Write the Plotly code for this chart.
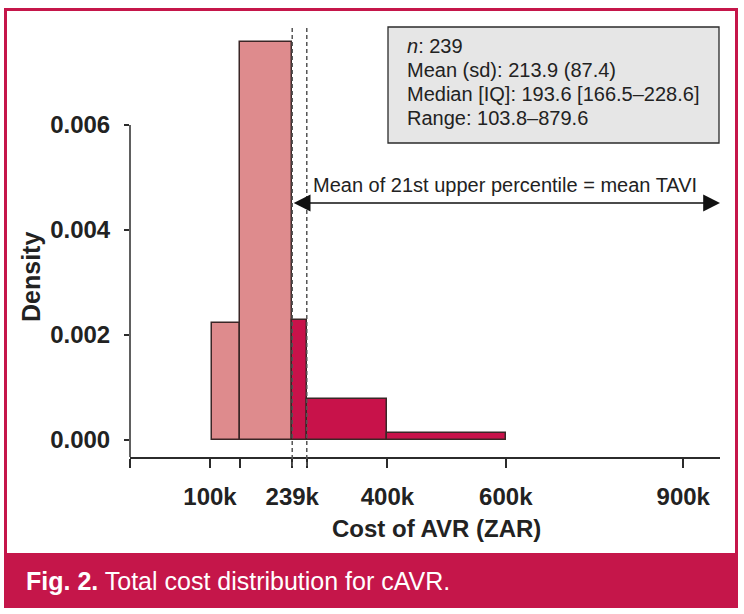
import plotly.graph_objects as go

# ---- data (cost in thousands of ZAR) ----
bin_edges = [103.8, 150, 239, 263.6, 400, 600]
densities = [0.00222, 0.00759, 0.00229, 0.000775, 0.000139]
bin_group = ["low", "low", "high", "high", "high"]
mean_lines = [239, 263.6]
x_tickvals = [100, 150, 239, 263.6, 400, 600, 900]
x_ticktext = ["100k", "", "239k", "", "400k", "600k", "900k"]
y_tickvals = [0, 0.002, 0.004, 0.006]
y_ticktext = ["0.000", "0.002", "0.004", "0.006"]
stats_lines = ["<i>n</i>: 239", "Mean (sd): 213.9 (87.4)",
               "Median [IQ]: 193.6 [166.5–228.6]", "Range: 103.8–879.6"]
arrow_label = "Mean of 21st upper percentile = mean TAVI"
caption = "<b>Fig. 2.</b> Total cost distribution for cAVR."

# ---- styles / layout ----
W, H = 744, 614
L, R, T, B = 130, 24, 27, 157
PW, PH = W - L - R, H - T - B
XR = [-35.2, 962.1]
YR = [-0.000324, 0.007867]
CRIMSON = "#C5164A"
LIGHT = "#DE8B8D"
DARK = "#C8124A"
INK = "#2b2b2b"
FONT = "Liberation Sans, Arial, Helvetica, sans-serif"


def px(xp):
    return (xp - L) / PW


def py(yp):
    return (H - B - yp) / PH


colors = [LIGHT if g == "low" else DARK for g in bin_group]
mids = [(a + b) / 2 for a, b in zip(bin_edges[:-1], bin_edges[1:])]
widths = [b - a for a, b in zip(bin_edges[:-1], bin_edges[1:])]

fig = go.Figure()
fig.add_trace(go.Bar(
    x=mids, y=densities, width=widths,
    marker=dict(color=colors, line=dict(color="#3a2626", width=1.5)),
    showlegend=False, hoverinfo="skip",
))

shapes = [
    # outer crimson frame and caption bar
    dict(type="rect", xref="paper", yref="paper", x0=px(4), x1=px(738), y0=py(608), y1=py(8),
         fillcolor=CRIMSON, line=dict(width=0), layer="below"),
    dict(type="rect", xref="paper", yref="paper", x0=px(7), x1=px(735), y0=py(553), y1=py(11),
         fillcolor="white", line=dict(width=0), layer="below"),
    # y-axis line (from 0.006 down to the x-axis)
    dict(type="line", xref="paper", yref="y", x0=0, x1=0, y0=YR[0], y1=y_tickvals[-1],
         line=dict(color=INK, width=1.5)),
    # stats box
    dict(type="rect", xref="paper", yref="paper", x0=px(388), x1=px(719), y0=py(143), y1=py(27),
         fillcolor="#E6E6E6", line=dict(color=INK, width=1.3)),
]
for xv in mean_lines:
    shapes.append(dict(type="line", xref="x", yref="paper", x0=xv, x1=xv, y0=py(466), y1=1,
                       line=dict(color="#555555", width=1.5, dash="4px,3px")))

annotations = []
line_y = [46, 70, 94, 118]
for txt, yy in zip(stats_lines, line_y):
    annotations.append(dict(text=txt, xref="paper", yref="paper", x=px(405), y=py(yy),
                            xanchor="left", yanchor="middle", showarrow=False,
                            font=dict(size=20, color="#222", family=FONT)))
arrow_y = 0.004514
annotations.append(dict(text="", xref="x", yref="y", x=XR[1], y=arrow_y,
                        ax=mean_lines[0], ay=arrow_y, axref="x", ayref="y",
                        showarrow=True, arrowhead=2, arrowsize=2.4, arrowwidth=1.4,
                        arrowside="end+start", arrowcolor="#111", standoff=0, startstandoff=0))
annotations.append(dict(text=arrow_label, xref="paper", yref="paper", x=px(311), y=py(185),
                        xanchor="left", yanchor="middle", showarrow=False,
                        font=dict(size=20, color="#222", family=FONT)))
annotations.append(dict(text="<b>Cost of AVR (ZAR)</b>", xref="paper", yref="paper",
                        x=px(436), y=py(528), xanchor="center", yanchor="middle",
                        showarrow=False, font=dict(size=24, color="#222", family=FONT)))
annotations.append(dict(text="<b>Density</b>", xref="paper", yref="paper", textangle=-90,
                        x=px(31), y=py(277), xanchor="center", yanchor="middle",
                        showarrow=False, font=dict(size=25, color="#222", family=FONT)))
annotations.append(dict(text=caption, xref="paper", yref="paper", x=px(24), y=py(581),
                        xanchor="left", yanchor="middle", showarrow=False,
                        font=dict(size=25, color="white", family=FONT)))

fig.update_layout(
    width=W, height=H, autosize=False,
    margin=dict(l=L, r=R, t=T, b=B),
    paper_bgcolor="white", plot_bgcolor="rgba(0,0,0,0)",
    bargap=0, shapes=shapes, annotations=annotations,
    font=dict(family=FONT, color="#222"),
    xaxis=dict(range=XR, showgrid=False, zeroline=False, showline=True,
               linecolor=INK, linewidth=1.5,
               tickmode="array", tickvals=[XR[0] + 0.01] + x_tickvals,
               ticktext=[""] + x_ticktext,
               ticks="outside", ticklen=9, tickwidth=1.5, tickcolor=INK,
               ticklabelstandoff=8,
               tickfont=dict(size=24, family=FONT, color="#222", weight="bold")),
    yaxis=dict(range=YR, showgrid=False, zeroline=False, showline=False,
               tickmode="array", tickvals=y_tickvals, ticktext=y_ticktext,
               ticks="outside", ticklen=5, tickwidth=1.5, tickcolor=INK,
               ticklabelstandoff=9,
               tickfont=dict(size=24, family=FONT, color="#222", weight="bold")),
)

fig.write_html("out.html", config={"displayModeBar": False},
               post_script="document.body.style.margin='0';document.body.style.padding='0';")
